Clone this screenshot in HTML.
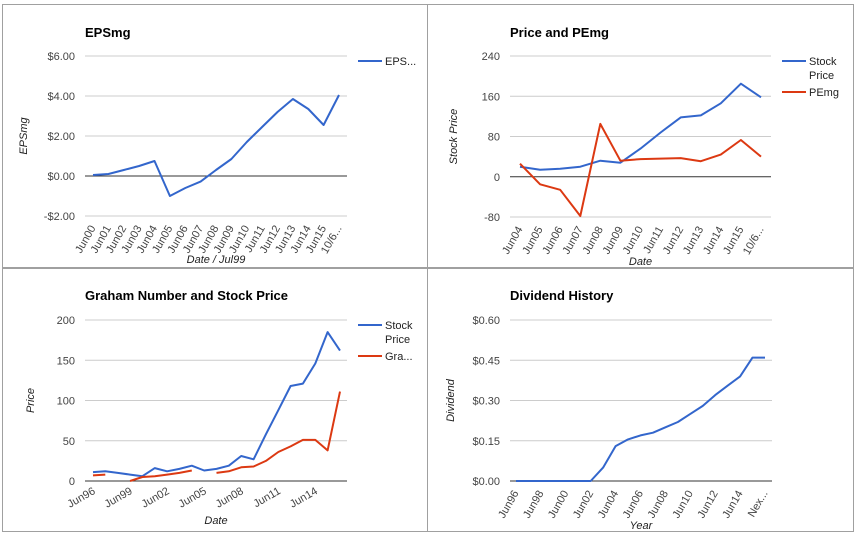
<!DOCTYPE html>
<html><head><meta charset="utf-8"><style>
body{margin:0;background:#fff;font-family:"Liberation Sans",Arial,sans-serif;}
svg{display:block}
</style></head><body>
<svg id="s" width="857" height="534" xmlns="http://www.w3.org/2000/svg">
<rect x="0" y="0" width="857" height="534" fill="#fff"/>
<rect x="2.5" y="4.5" width="425" height="263" fill="#fff" stroke="#a0a0a0"/>
<rect x="427.5" y="4.5" width="426" height="263" fill="#fff" stroke="#a0a0a0"/>
<rect x="2.5" y="268.5" width="425" height="263" fill="#fff" stroke="#a0a0a0"/>
<rect x="427.5" y="268.5" width="426" height="263" fill="#fff" stroke="#a0a0a0"/>
</svg>
<script>
const epsCats=["Jun00","Jun01","Jun02","Jun03","Jun04","Jun05","Jun06","Jun07","Jun08","Jun09","Jun10","Jun11","Jun12","Jun13","Jun14","Jun15","10/6..."];
const epsVals=[0.05,0.1,0.3,0.5,0.75,-1.0,-0.6,-0.28,0.3,0.85,1.7,2.45,3.2,3.85,3.35,2.55,4.05];
const epsTicks=[-2,0,2,4,6];
const peCats=["Jun04","Jun05","Jun06","Jun07","Jun08","Jun09","Jun10","Jun11","Jun12","Jun13","Jun14","Jun15","10/6..."];
const pePrice=[20,14,16,20,32,28,56,88,118,122,146,185,158];
const peVals=[26,-15,-26,-78,105,32,35,36,37,31,44,73,40];
const peTicks=[-80,0,80,160,240];
const grCats=["Jun96","Jun97","Jun98","Jun99","Jun00","Jun01","Jun02","Jun03","Jun04","Jun05","Jun06","Jun07","Jun08","Jun09","Jun10","Jun11","Jun12","Jun13","Jun14","Jun15","Jun16"];
const grPrice=[11,12,10,8,6,16,12,15,19,13,15,19,31,27,58,88,118,121,146,185,162];
const grGraham=[7,8,null,0,5,6,8,10,13,null,10,12,17,18,25,36,43,51,51,38,111];
const grTicks=[0,50,100,150,200];
const dvCats=["Jun96","Jun97","Jun98","Jun99","Jun00","Jun01","Jun02","Jun03","Jun04","Jun05","Jun06","Jun07","Jun08","Jun09","Jun10","Jun11","Jun12","Jun13","Jun14","Jun15","Nex..."];
const dvVals=[0,0,0,0,0,0,0,0.05,0.13,0.155,0.17,0.18,0.2,0.22,0.25,0.28,0.32,0.355,0.39,0.46,0.46];
const dvTicks=[0,0.15,0.3,0.45,0.6];

const NS="http://www.w3.org/2000/svg";
const svg=document.getElementById('s');
function mk(tag,attrs,txt){const e=document.createElementNS(NS,tag);for(const k in attrs)e.setAttribute(k,attrs[k]);if(txt!=null)e.textContent=txt;svg.appendChild(e);return e;}

function chart(o){
  const yS=v=>o.y0+(v-o.min)/(o.max-o.min)*(o.y1-o.y0);
  const n=o.cats.length;
  const xS=i=>o.px0+i*(o.px1-o.px0)/(n-1);
  let t=mk('text',{x:o.left,y:o.titleY,'font-size':13,'font-weight':'bold',fill:'#000'},o.title);
  
  
  o.ticks.forEach(v=>{
    const y=yS(v);
    let g=mk('line',{x1:o.left,x2:o.right,y1:y,y2:y,stroke:v===0?'#333':'#ccc','stroke-width':1});
    
    
    let l=mk('text',{x:o.left-10,y:y+4,'font-size':11,fill:'#444','text-anchor':'end'},o.fmt(v));
    
    
  });
  o.cats.forEach((c,i)=>{
    if(i%o.every!==0)return;
    const x=xS(i)+3,y=o.y0+12;
    let l=mk('text',{x:x,y:y,'font-size':11,fill:'#444','text-anchor':'end',transform:`rotate(${o.rot} ${x} ${y})`},c);
    
    
  });
  let yt=mk('text',{x:o.ytX,y:(o.y0+o.y1)/2,'font-size':11,'font-style':'italic',fill:'#222','text-anchor':'middle',transform:`rotate(-90 ${o.ytX} ${(o.y0+o.y1)/2})`},o.ytitle);
  
  
  let xt=mk('text',{x:(o.left+o.right)/2,y:o.xtY,'font-size':11,'font-style':'italic',fill:'#222','text-anchor':'middle'},o.xtitle);
  
  
  o.series.forEach((s,si)=>{
    let d='',pen=false;
    s.vals.forEach((v,i)=>{
      if(v==null){pen=false;return;}
      d+=(pen?'L':'M')+xS(i).toFixed(1)+' '+yS(v).toFixed(1)+' ';pen=true;
    });
    let p=mk('path',{d:d,fill:'none',stroke:s.color,'stroke-width':2,'stroke-linejoin':'round'});
    
    
    const ly=o.legY+s.dy;
    let ll=mk('line',{x1:o.right+11,x2:o.right+35,y1:ly,y2:ly,stroke:s.color,'stroke-width':2});
    
    
    s.label.forEach((ln,k)=>{
      let lt=mk('text',{x:o.right+38,y:ly+4+k*14,'font-size':11,fill:'#222'},ln);
      
      
    });
  });
}
const money=v=>(v<0?'-$':'$')+Math.abs(v).toFixed(2);
chart({key:'eps',title:'EPSmg',titleY:37,left:85,right:347,y0:216,y1:56,min:-2,max:6,px0:93,px1:339,cats:epsCats,ticks:epsTicks,fmt:money,every:1,rot:-60,ytX:27,ytitle:'EPSmg',xtY:263,xtitle:'Date / Jul99',legY:61,series:[{id:'eps',vals:epsVals,color:'#3366cc',label:['EPS...'],dy:0}]});
chart({key:'pe',title:'Price and PEmg',titleY:37,left:510,right:771,y0:217,y1:56,min:-80,max:240,px0:520,px1:761,cats:peCats,ticks:peTicks,fmt:v=>String(v),every:1,rot:-60,ytX:457,ytitle:'Stock Price',xtY:265,xtitle:'Date',legY:61,series:[{id:'price',vals:pePrice,color:'#3366cc',label:['Stock','Price'],dy:0},{id:'pemg',vals:peVals,color:'#dc3912',label:['PEmg'],dy:31}]});
chart({key:'graham',title:'Graham Number and Stock Price',titleY:300,left:85,right:347,y0:481,y1:320,min:0,max:200,px0:93,px1:340,cats:grCats,ticks:grTicks,fmt:v=>String(v),every:3,rot:-30,ytX:34,ytitle:'Price',xtY:524,xtitle:'Date',legY:325,series:[{id:'price',vals:grPrice,color:'#3366cc',label:['Stock','Price'],dy:0},{id:'graham',vals:grGraham,color:'#dc3912',label:['Gra...'],dy:31}]});
chart({key:'div',title:'Dividend History',titleY:300,left:510,right:772,y0:481,y1:320,min:0,max:0.6,px0:516,px1:765,cats:dvCats,ticks:dvTicks,fmt:money,every:2,rot:-60,ytX:454,ytitle:'Dividend',xtY:529,xtitle:'Year',legY:-100,series:[{id:'dividend',vals:dvVals,color:'#3366cc',label:[],dy:0}]});
</script>
</body></html>
